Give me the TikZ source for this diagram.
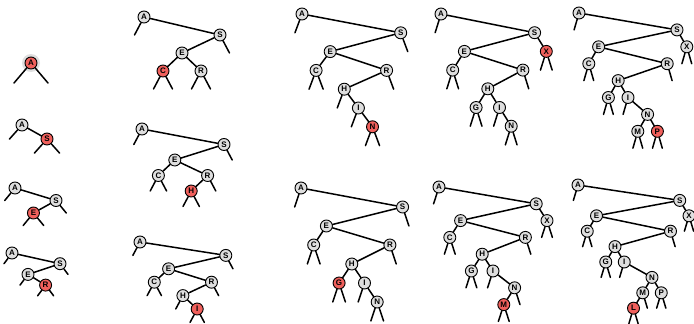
\documentclass[tikz,border=0pt]{standalone}
\usepackage{fontspec}
\setsansfont{Liberation Sans}
\definecolor{keygray}{RGB}{222,222,222}
\definecolor{newred}{RGB}{240,96,92}
\tikzset{
  bstkey/.style={circle,draw=black,line width=0.9pt,fill=keygray,minimum size=12pt,inner sep=0pt,
    font=\sffamily\bfseries\fontsize{8}{8}\selectfont},
  bstnew/.style={bstkey,fill=newred},
  link/.style={line width=1.5pt,line cap=round},
}
\begin{document}
\begin{tikzpicture}
\useasboundingbox (0,0) rectangle (694pt,-324pt);

% insert A
\begin{scope}[shift={(31pt,-63pt)},x=34pt,y=-20pt]
  \fill[gray!25] (0,0) circle (9pt);
  \node[bstnew] (p1A) at (0,0) {A};
  \foreach \lr in {-0.5,0.5} \draw[link] (p1A) -- ++(\lr,1);
\end{scope}

% insert S
\begin{scope}[shift={(22pt,-125pt)},x=25pt,y=-14pt]
  \foreach \n/\r/\d/\s in {A/0/0/bstkey,S/1/1/bstnew}
    \node[\s] (p2\n) at (\r,\d) {\n};
  \draw[link] (p2A) -- (p2S);
  \foreach \n/\lr in {A/-0.5,S/-0.5,S/0.5} \draw[link] (p2\n) -- ++(\lr,1);
\end{scope}

% insert E
\begin{scope}[shift={(15pt,-188pt)},x=20.5pt,y=-12.5pt]
  \foreach \n/\r/\d/\s in {A/0/0/bstkey,E/0.9/2/bstnew,S/2/1/bstkey}
    \node[\s] (p3\n) at (\r,\d) {\n};
  \foreach \a/\b in {A/S,S/E} \draw[link] (p3\a) -- (p3\b);
  \foreach \n/\lr in {A/-0.5,S/0.5,E/-0.5,E/0.5} \draw[link] (p3\n) -- ++(\lr,1);
\end{scope}

% insert R
\begin{scope}[shift={(12pt,-253pt)},x=16pt,y=-10.7pt]
  \foreach \n/\r/\d/\s in {A/0/0/bstkey,E/1/2/bstkey,R/2.1/3/bstnew,S/3/1/bstkey}
    \node[\s] (p4\n) at (\r,\d) {\n};
  \foreach \a/\b in {A/S,S/E,E/R} \draw[link] (p4\a) -- (p4\b);
  \foreach \n/\lr in {A/-0.5,S/0.5,E/-0.5,R/-0.5,R/0.5} \draw[link] (p4\n) -- ++(\lr,1);
\end{scope}

% insert C
\begin{scope}[shift={(144pt,-17pt)},x=19pt,y=-18pt]
  \foreach \n/\r/\d/\s in {A/0/0/bstkey,C/1/3/bstnew,E/2/2/bstkey,R/3/3/bstkey,S/4/1/bstkey}
    \node[\s] (p5\n) at (\r,\d) {\n};
  \foreach \a/\b in {A/S,S/E,E/C,E/R} \draw[link] (p5\a) -- (p5\b);
  \foreach \n/\lr in {A/-0.5,S/0.5,C/-0.5,C/0.5,R/-0.5,R/0.5} \draw[link] (p5\n) -- ++(\lr,1);
\end{scope}

% insert H
\begin{scope}[shift={(142pt,-129pt)},x=16.4pt,y=-15.5pt]
  \foreach \n/\r/\d/\s in {A/0/0/bstkey,C/1/3/bstkey,E/2/2/bstkey,H/3/4/bstnew,R/4/3/bstkey,S/5/1/bstkey}
    \node[\s] (p6\n) at (\r,\d) {\n};
  \foreach \a/\b in {A/S,S/E,E/C,E/R,R/H} \draw[link] (p6\a) -- (p6\b);
  \foreach \n/\lr in {A/-0.5,S/0.5,C/-0.5,C/0.5,R/0.5,H/-0.5,H/0.5} \draw[link] (p6\n) -- ++(\lr,1);
\end{scope}

% insert I
\begin{scope}[shift={(140pt,-242pt)},x=14.3pt,y=-13.4pt]
  \foreach \n/\r/\d/\s in {A/0/0/bstkey,C/1/3/bstkey,E/2/2/bstkey,H/3/4/bstkey,I/4/5/bstnew,R/5/3/bstkey,S/6/1/bstkey}
    \node[\s] (p7\n) at (\r,\d) {\n};
  \foreach \a/\b in {A/S,S/E,E/C,E/R,R/H,H/I} \draw[link] (p7\a) -- (p7\b);
  \foreach \n/\lr in {A/-0.5,S/0.5,C/-0.5,C/0.5,R/0.5,H/-0.5,I/-0.5,I/0.5} \draw[link] (p7\n) -- ++(\lr,1);
\end{scope}

% insert N
\begin{scope}[shift={(302pt,-14pt)},x=14.1pt,y=-18.8pt]
  \foreach \n/\r/\d/\s in {A/0/0/bstkey,C/1/3/bstkey,E/2/2/bstkey,H/3/4/bstkey,I/4/5/bstkey,N/5/6/bstnew,R/6/3/bstkey,S/7/1/bstkey}
    \node[\s] (p8\n) at (\r,\d) {\n};
  \foreach \a/\b in {A/S,S/E,E/C,E/R,R/H,H/I,I/N} \draw[link] (p8\a) -- (p8\b);
  \foreach \n/\lr in {A/-0.5,S/0.5,C/-0.5,C/0.5,R/0.5,H/-0.5,I/-0.5,N/-0.5,N/0.5} \draw[link] (p8\n) -- ++(\lr,1);
\end{scope}

% insert G
\begin{scope}[shift={(301pt,-188pt)},x=12.7pt,y=-19pt]
  \foreach \n/\r/\d/\s in {A/0/0/bstkey,C/1/3/bstkey,E/2/2/bstkey,G/3/5/bstnew,H/4/4/bstkey,I/5/5/bstkey,N/6/6/bstkey,R/7/3/bstkey,S/8/1/bstkey}
    \node[\s] (p9\n) at (\r,\d) {\n};
  \foreach \a/\b in {A/S,S/E,E/C,E/R,R/H,H/G,H/I,I/N} \draw[link] (p9\a) -- (p9\b);
  \foreach \n/\lr in {A/-0.5,S/0.5,C/-0.5,C/0.5,R/0.5,G/-0.5,G/0.5,I/-0.5,N/-0.5,N/0.5} \draw[link] (p9\n) -- ++(\lr,1);
\end{scope}

% insert X
\begin{scope}[shift={(441pt,-14pt)},x=11.7pt,y=-18.7pt]
  \foreach \n/\r/\d/\s in {A/0/0/bstkey,C/1/3/bstkey,E/2/2/bstkey,G/3/5/bstkey,H/4/4/bstkey,I/5/5/bstkey,N/6/6/bstkey,R/7/3/bstkey,S/8/1/bstkey,X/9/2/bstnew}
    \node[\s] (p10\n) at (\r,\d) {\n};
  \foreach \a/\b in {A/S,S/E,S/X,E/C,E/R,R/H,H/G,H/I,I/N} \draw[link] (p10\a) -- (p10\b);
  \foreach \n/\lr in {A/-0.5,X/-0.5,X/0.5,C/-0.5,C/0.5,R/0.5,G/-0.5,G/0.5,I/-0.5,N/-0.5,N/0.5} \draw[link] (p10\n) -- ++(\lr,1);
\end{scope}

% insert M
\begin{scope}[shift={(439pt,-187pt)},x=10.8pt,y=-16.8pt]
  \foreach \n/\r/\d/\s in {A/0/0/bstkey,C/1/3/bstkey,E/2/2/bstkey,G/3/5/bstkey,H/4/4/bstkey,I/5/5/bstkey,M/6/7/bstnew,N/7/6/bstkey,R/8/3/bstkey,S/9/1/bstkey,X/10/2/bstkey}
    \node[\s] (p11\n) at (\r,\d) {\n};
  \foreach \a/\b in {A/S,S/E,S/X,E/C,E/R,R/H,H/G,H/I,I/N,N/M} \draw[link] (p11\a) -- (p11\b);
  \foreach \n/\lr in {A/-0.5,X/-0.5,X/0.5,C/-0.5,C/0.5,R/0.5,G/-0.5,G/0.5,I/-0.5,N/0.5,M/-0.5,M/0.5} \draw[link] (p11\n) -- ++(\lr,1);
\end{scope}

% insert P
\begin{scope}[shift={(579pt,-13pt)},x=9.8pt,y=-16.9pt]
  \foreach \n/\r/\d/\s in {A/0/0/bstkey,C/1/3/bstkey,E/2/2/bstkey,G/3/5/bstkey,H/4/4/bstkey,I/5/5/bstkey,M/6/7/bstkey,N/7/6/bstkey,P/8/7/bstnew,R/9/3/bstkey,S/10/1/bstkey,X/11/2/bstkey}
    \node[\s] (p12\n) at (\r,\d) {\n};
  \foreach \a/\b in {A/S,S/E,S/X,E/C,E/R,R/H,H/G,H/I,I/N,N/M,N/P} \draw[link] (p12\a) -- (p12\b);
  \foreach \n/\lr in {A/-0.5,X/-0.5,X/0.5,C/-0.5,C/0.5,R/0.5,G/-0.5,G/0.5,I/-0.5,M/-0.5,M/0.5,P/-0.5,P/0.5} \draw[link] (p12\n) -- ++(\lr,1);
\end{scope}

% insert L
\begin{scope}[shift={(578pt,-185pt)},x=9.25pt,y=-15.4pt]
  \foreach \n/\r/\d/\s in {A/0/0/bstkey,C/1/3/bstkey,E/2/2/bstkey,G/3/5/bstkey,H/4/4/bstkey,I/5/5/bstkey,L/6/8/bstnew,M/7/7/bstkey,N/8/6/bstkey,P/9/7/bstkey,R/10/3/bstkey,S/11/1/bstkey,X/12/2/bstkey}
    \node[\s] (p13\n) at (\r,\d) {\n};
  \foreach \a/\b in {A/S,S/E,S/X,E/C,E/R,R/H,H/G,H/I,I/N,N/M,N/P,M/L} \draw[link] (p13\a) -- (p13\b);
  \foreach \n/\lr in {A/-0.5,X/-0.5,X/0.5,C/-0.5,C/0.5,R/0.5,G/-0.5,G/0.5,I/-0.5,L/-0.5,L/0.5,M/0.5,P/-0.5,P/0.5} \draw[link] (p13\n) -- ++(\lr,1);
\end{scope}

\end{tikzpicture}
\end{document}
